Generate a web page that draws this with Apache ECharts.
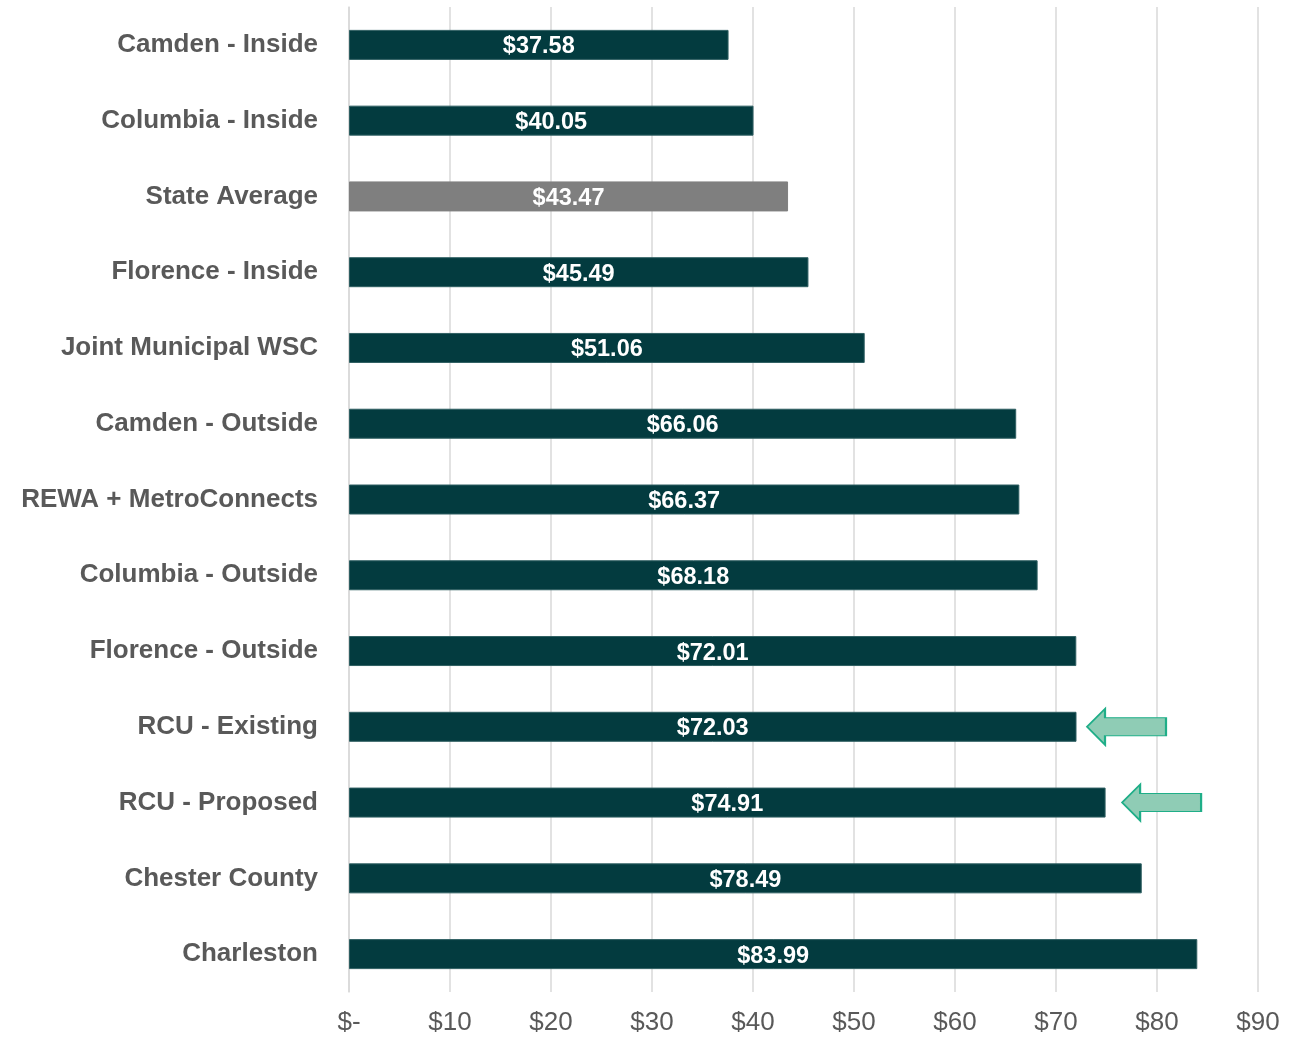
<!DOCTYPE html>
<html>
<head>
<meta charset="UTF-8">
<title>Rate comparison</title>
<script src="https://cdn.jsdelivr.net/npm/echarts@6/dist/echarts.min.js"></script>
<style>
  html, body { margin: 0; padding: 0; background: #fff; }
  #chart { width: 1300px; height: 1037px; }
</style>
</head>
<body>
<div id="chart"></div>
<script>
// data
var categories = ['Camden - Inside', 'Columbia - Inside', 'State Average', 'Florence - Inside',
  'Joint Municipal WSC', 'Camden - Outside', 'REWA + MetroConnects', 'Columbia - Outside',
  'Florence - Outside', 'RCU - Existing', 'RCU - Proposed', 'Chester County', 'Charleston'];
var values = [37.58, 40.05, 43.47, 45.49, 51.06, 66.06, 66.37, 68.18, 72.01, 72.03, 74.91, 78.49, 83.99];
var highlighted = ['State Average'];
var arrowed = ['RCU - Existing', 'RCU - Proposed'];
var tickMax = 90;
var tickStep = 10;

var chart = echarts.init(document.getElementById('chart'));
var font = 'Liberation Sans, Arial, sans-serif';

var barData = values.map(function (v, i) {
  var grey = highlighted.indexOf(categories[i]) >= 0;
  return {
    value: v,
    itemStyle: { color: grey ? '#7f7f7f' : '#033b3f', borderColor: grey ? '#7f7f7f' : '#2f5f62', borderWidth: 1 }
  };
});

// left-pointing block arrow
var arrowPath = 'path://M0,18 L18,0 L18,9 L79,9 L79,27 L18,27 L18,36 Z';
var arrowPoints = arrowed.map(function (c, k) {
  return { coord: [values[categories.indexOf(c)], c], symbolOffset: [k === 0 ? 50 : 56, 0] };
});

var option = {
  backgroundColor: '#fff',
  animation: false,
  grid: { left: 349, right: 42, top: 7, bottom: 45, containLabel: false },
  xAxis: {
    type: 'value',
    min: 0,
    max: tickMax,
    interval: tickStep,
    axisLine: { show: false },
    axisTick: { show: false },
    axisLabel: {
      color: '#595959',
      fontSize: 26,
      fontFamily: font,
      margin: 18,
      formatter: function (v) { return v === 0 ? '$-' : '$' + v; }
    },
    splitLine: { lineStyle: { color: '#d9d9d9', width: 1.5 } }
  },
  yAxis: {
    type: 'category',
    data: categories,
    inverse: true,
    axisLine: { show: true, lineStyle: { color: '#d9d9d9', width: 1.5 } },
    axisTick: { show: false },
    axisLabel: {
      color: '#595959',
      fontSize: 26,
      fontWeight: 'bold',
      fontFamily: font,
      margin: 31,
      padding: [2, 0, 0, 0]
    }
  },
  series: [{
    type: 'bar',
    data: barData,
    barWidth: 30,
    label: {
      show: true,
      position: 'inside',
      color: '#fff',
      fontSize: 23.5,
      fontWeight: 'bold',
      fontFamily: font,
      offset: [0, 2],
      formatter: function (p) { return '$' + p.value.toFixed(2); }
    },
    markPoint: {
      symbol: arrowPath,
      symbolSize: [79, 36],
      symbolKeepAspect: false,
      label: { show: false },
      itemStyle: { color: '#8fccb5', borderColor: '#1fae88', borderWidth: 1.5 },
      data: arrowPoints
    }
  }]
};

chart.setOption(option);
</script>
</body>
</html>
